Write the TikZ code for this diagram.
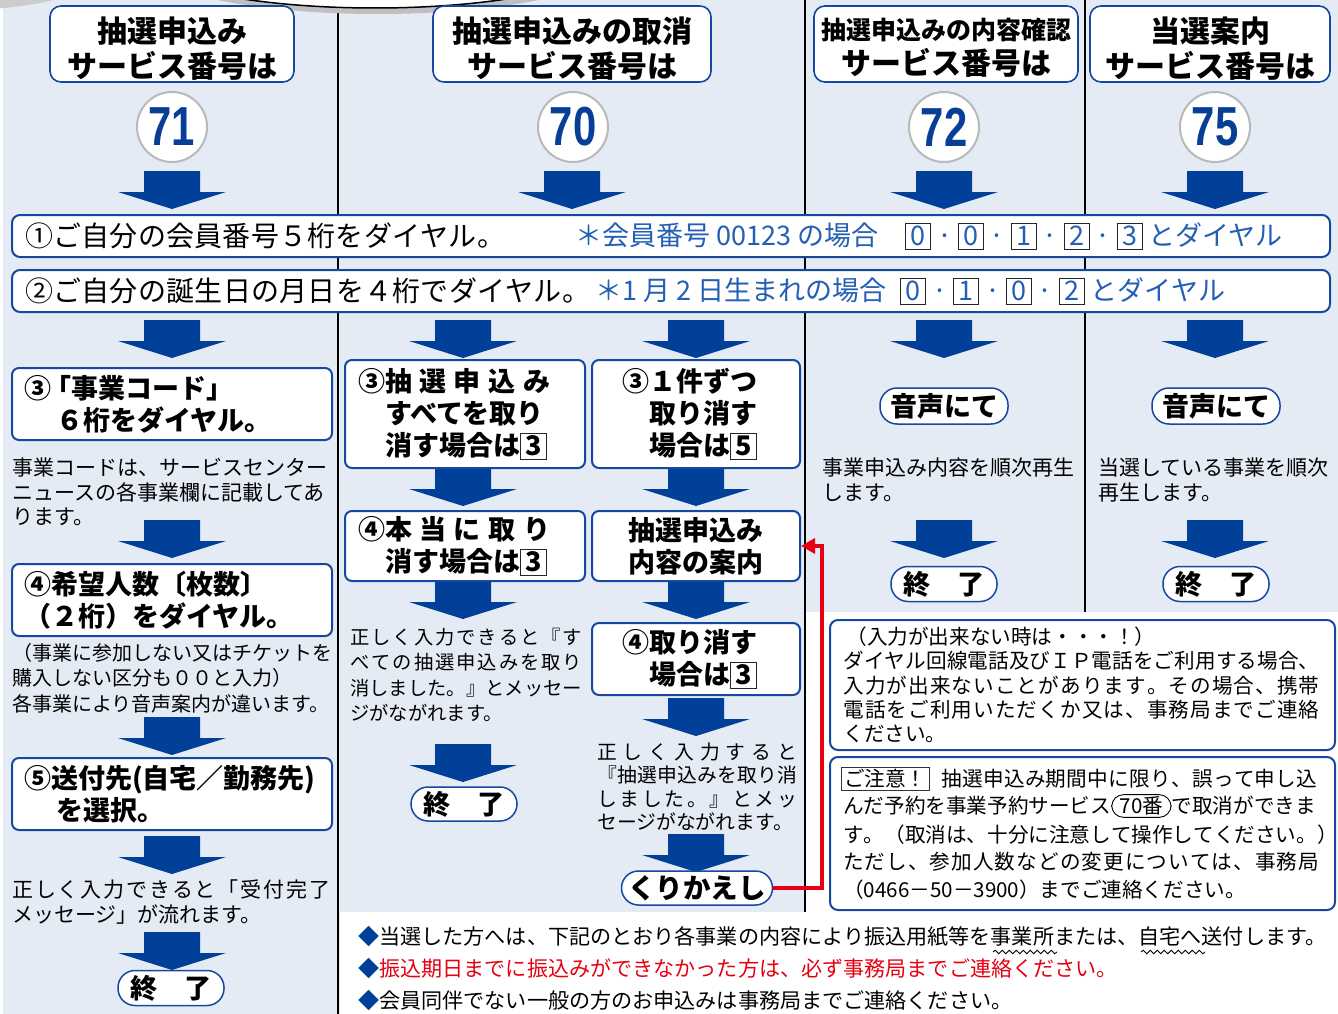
\documentclass[tikz,border=0pt]{standalone}
\usepackage{fontspec}
\setmainfont{Noto Sans CJK JP}
\newfontfamily\numfont{Liberation Sans}
\usetikzlibrary{arrows.meta,decorations.pathmorphing}

\definecolor{bgblue}{RGB}{228,235,245}
\definecolor{boxblue}{RGB}{22,72,160}
\definecolor{arrowblue}{RGB}{0,64,152}
\definecolor{numblue}{RGB}{8,62,150}
\definecolor{hintblue}{RGB}{35,95,180}
\definecolor{alertred}{RGB}{230,0,18}

% Framed key digit, as dialled.
\newcommand\numbox[2][black]{{\color{black!85}\fboxsep=1pt\fboxrule=0.9pt%
  \fbox{\kern3.5pt\rule[-0.1em]{0pt}{0.86em}\textcolor{#1}{#2}\kern3.5pt}}}
\newcommand\dialdot{\kern6pt·\kern6pt}
% Spread the characters of one line over a given width.
\newcommand\spreadtext[2]{\makebox[#1][l]{\spreadfirst#2\relax}}
\def\spreadfirst#1{#1\spreadrest}
\def\spreadrest#1{\ifx\relax#1\else\hfill#1\expandafter\spreadrest\fi}

\begin{document}
\begin{tikzpicture}[
        x=1pt, y=-1pt,
        hdrbox/.style={
            draw=boxblue, line width=1.6pt, fill=white,
            rounded corners=11pt, minimum height=76, inner sep=0pt,
        },
        hdrtext/.style={
            inner sep=0pt, align=center,
            font=\fontsize{30}{35}\selectfont\bfseries,
        },
        numcircle/.style={
            circle, draw=gray!55, line width=2pt, fill=white,
            minimum size=70, inner sep=0pt, text=numblue,
            font=\numfont\fontsize{55}{55}\selectfont\bfseries,
        },
        rowbox/.style={
            draw=boxblue, line width=2pt, fill=white,
            rounded corners=8pt, minimum width=1318, minimum height=42,
        },
        rowtext/.style={
            anchor=west, inner sep=0pt, font=\fontsize{28}{28}\selectfont,
        },
        hinttext/.style={
            anchor=west, inner sep=0pt, text=hintblue,
            font=\fontsize{27}{27}\selectfont,
        },
        stepbox/.style={
            draw=boxblue, line width=2pt, fill=white, rounded corners=7pt,
            inner sep=0pt, align=left,
            font=\fontsize{27}{32}\selectfont\bfseries,
        },
        endoval/.style={
            draw=boxblue, line width=1.5pt, fill=white, rounded corners=17pt,
            minimum height=35, inner sep=0pt,
            font=\fontsize{27}{27}\selectfont\bfseries,
        },
        notetext/.style={
            anchor=west, align=left, inner sep=0pt,
            font=\fontsize{21}{24.5}\selectfont,
        },
        infobox/.style={
            draw=boxblue, line width=2pt, fill=white, rounded corners=8pt,
            minimum width=505,
        },
        infotext/.style={
            anchor=west, align=left, inner sep=0pt,
            font=\fontsize{20.6}{27.5}\selectfont,
        },
        ring/.style={
            draw, line width=0.9pt, rounded corners=12pt, anchor=west,
            inner xsep=8pt, inner ysep=2pt,
            font=\fontsize{20.6}{20.6}\selectfont,
        },
        bottomline/.style={
            anchor=west, inner sep=0pt, font=\fontsize{21.1}{21.1}\selectfont,
        },
        bigarrow/.pic={
            \fill[arrowblue] (-28,0) -- (28,0) -- (28,21) -- (54,21)
                -- (0,38) -- (-54,21) -- (-28,21) -- cycle;
        },
    ]
    \useasboundingbox (0,0) rectangle (1338,1014);

    % Background.
    \fill[white] (0,0) rectangle (1338,1014);
    \fill[bgblue] (3,0) rectangle (1338,1014);
    \fill[white] (806,612) -- (1338,612) -- (1338,1014) -- (340,1014)
        -- (340,912) -- (806,912) -- cycle;

    % Column dividers.
    \draw[line width=2pt] (338,8) -- (338,1014);
    \draw[line width=2pt] (805,0) -- (805,912);
    \draw[line width=2pt] (1085,0) -- (1085,612);

    % Lower edge of the title bubble.
    \fill[gray!40] (-40,-50) ellipse [x radius=170, y radius=60];
    \fill[gray!50] (378,-47) ellipse [x radius=252, y radius=61];
    \filldraw[fill=white, line width=1.5pt] (375,-52) ellipse [x radius=250, y radius=60];

    % Service headers.
    \node[hdrbox, minimum width=244] (hdrentry) at (172,44) {};
    \node[hdrtext] (hdrentrytxt) at (172,49) {抽選申込み\\サービス番号は};
    \node[hdrbox, minimum width=278] (hdrcancel) at (572,44) {};
    \node[hdrtext] (hdrcanceltxt) at (572,49) {抽選申込みの取消\\サービス番号は};
    \node[hdrbox, minimum width=264] (hdrcheck) at (946,44) {};
    \node[hdrtext] (hdrchecktxt) at (946,48)
        {{\fontsize{25}{35}\selectfont 抽選申込みの内容確認}\\サービス番号は};
    \node[hdrbox, minimum width=240] (hdrwin) at (1210,44) {};
    \node[hdrtext] (hdrwintxt) at (1210,49) {当選案内\\サービス番号は};

    % Service numbers.
    \foreach \name/\x/\num in {entry/172/71, cancel/573/70, check/944/72, win/1215/75}
    \node[numcircle] (num\name) at (\x,127) {\scalebox{0.76}[1]{\num}};

    % Block arrows.
    \foreach \x/\y in {172/171, 572/171, 944/171, 1215/171,
            172/320, 463/320, 696/320, 944/320, 1215/320,
            172/520, 172/717, 172/836, 172/932,
            463/468, 463/581, 463/744,
            696/468, 696/581, 696/698, 696/834,
            944/520, 1215/520}
    \pic at (\x,\y) {bigarrow};

    % Dial steps shared by all services.
    \node[rowbox] (dialmember) at (671,236) {};
    \node[rowtext] (dialmembertxt) at (25,236)
        {\spreadtext{480pt}{①ご自分の会員番号５桁をダイヤル。}};
    \node[hinttext] (dialmemberhint) at (575,236) {＊会員番号 00123 の場合\quad
        \numbox[hintblue]{0}\dialdot\numbox[hintblue]{0}\dialdot\numbox[hintblue]{1}%
        \dialdot\numbox[hintblue]{2}\dialdot\numbox[hintblue]{3}\kern6pt とダイヤル};

    \node[rowbox] (dialbirth) at (671,291) {};
    \node[rowtext] (dialbirthtxt) at (25,291)
        {\spreadtext{565pt}{②ご自分の誕生日の月日を４桁でダイヤル。}};
    \node[hinttext] (dialbirthhint) at (595,291) {＊1 月 2 日生まれの場合\hspace{14pt}%
        \numbox[hintblue]{0}\dialdot\numbox[hintblue]{1}\dialdot\numbox[hintblue]{0}%
        \dialdot\numbox[hintblue]{2}\kern6pt とダイヤル};

    % Entry (71).
    \node[stepbox, minimum width=320, minimum height=72, text width=296] (jcode) at (172,404)
        {③\kern-7pt「事業コード」\\\hspace*{32pt}６桁をダイヤル。};
    \node[notetext] (jcodenote) at (12,492)
        {事業コードは、サービスセンター\\ニュースの各事業欄に記載してあ\\ります。};
    \node[stepbox, minimum width=320, minimum height=72, text width=296] (jcount) at (172,600)
        {④希望人数〔枚数〕\\（２桁）をダイヤル。};
    \node[notetext, font=\fontsize{20}{25.5}\selectfont] (jcountnote) at (12,678)
        {（事業に参加しない又はチケットを\\購入しない区分も００と入力）\\各事業により音声案内が違います。};
    \node[stepbox, minimum width=320, minimum height=72, text width=296] (jsend) at (172,794)
        {⑤送付先(自宅／勤務先)\\\hspace*{32pt}を選択。};
    \node[notetext] (jsendnote) at (12,902)
        {\spreadtext{318pt}{正しく入力できると「受付完了}\\メッセージ」が流れます。};
    \node[endoval, minimum width=106] (jend) at (171,988) {終　了};

    % Cancel all (70).
    \node[stepbox, minimum width=240, minimum height=108, text width=214] (call) at (465,414)
        {③\spreadtext{165pt}{抽選申込み}\\\hspace*{27pt}すべてを取り\\\hspace*{27pt}消す場合は\numbox{3}};
    \node[stepbox, minimum width=240, minimum height=70, text width=214] (callsure) at (465,546)
        {④\spreadtext{165pt}{本当に取り}\\\hspace*{27pt}消す場合は\numbox{3}};
    \node[notetext, font=\fontsize{19.3}{25.3}\selectfont] (callnote) at (350,675)
        {\spreadtext{232pt}{正しく入力できると『す}\\\spreadtext{232pt}{べての抽選申込みを取り}\\%
        \spreadtext{232pt}{消しました。』とメッセー}\\ジがながれます。};
    \node[endoval, minimum width=106, minimum height=34] (callend) at (464,804) {終　了};

    % Cancel one by one (70).
    \node[stepbox, minimum width=208, minimum height=108, text width=148] (cone) at (696,414)
        {③１件ずつ\\\hspace*{27pt}取り消す\\\hspace*{27pt}場合は\numbox{5}};
    \node[stepbox, minimum width=208, minimum height=70, align=center] (annai) at (696,546)
        {抽選申込み\\内容の案内};
    \node[stepbox, minimum width=208, minimum height=72, text width=148] (conesure) at (696,659)
        {④取り消す\\\hspace*{27pt}場合は\numbox{3}};
    \node[notetext, font=\fontsize{19.8}{23.5}\selectfont] (conenote) at (597,787)
        {\spreadtext{200pt}{正しく入力すると}\\\spreadtext{200pt}{『抽選申込みを取り消}\\%
        \spreadtext{200pt}{しました。』とメッ}\\セージがながれます。};
    \node[endoval, minimum width=151, minimum height=34,
        font=\fontsize{27.5}{27.5}\selectfont\bfseries] (kuri) at (697,888) {くりかえし};

    % Repeat loop.
    \coordinate (loopcorner) at (822,888);
    \draw[alertred, line width=3.5pt, -{Triangle[length=14pt, width=15pt]}]
        (kuri.east) -- (loopcorner) |- (annai.east);

    % Check (72).
    \node[endoval, minimum width=128, minimum height=36] (checkvoice) at (944,406) {音声にて};
    \node[notetext] (checknote) at (822,480) {事業申込み内容を順次再生\\します。};
    \node[endoval, minimum width=106] (checkend) at (944,584) {終　了};

    % Results (75).
    \node[endoval, minimum width=128, minimum height=36] (winvoice) at (1216,406) {音声にて};
    \node[notetext] (winnote) at (1098,480) {当選している事業を順次\\再生します。};
    \node[endoval, minimum width=106] (winend) at (1216,584) {終　了};

    % Notes on the right.
    \node[infobox, minimum height=130, text width=478, align=left,
        font=\fontsize{20.6}{24.3}\selectfont] (nodial) at (1082.5,685)
        {\hspace*{3pt}（入力が出来ない時は・・・！）\\%
        \spreadtext{476pt}{ダイヤル回線電話及びＩＰ電話をご利用する場合、}\\%
        \spreadtext{476pt}{入力が出来ないことがあります。その場合、携帯}\\%
        \spreadtext{476pt}{電話をご利用いただくか又は、事務局までご連絡}\\%
        ください。};

    \node[infobox, minimum height=153] (caution) at (1082.5,833.5) {};
    \node[infotext] (caution1) at (841,779)
        {{\color{black!80}\fboxsep=2pt\fboxrule=0.9pt\fbox{\textcolor{black}{ご注意！}}}%
        \hspace{12pt}\spreadtext{376pt}{抽選申込み期間中に限り、誤って申し込}};
    \node[infotext] (caution2a) at (843,806) {んだ予約を事業予約サービス};
    \node[ring] (ring70) at (caution2a.east) {70番};
    \node[infotext] (caution2b) at (ring70.east) {で取消ができま};
    \node[infotext] (caution3) at (843,862)
        {\spreadtext{476pt}{す。（取消は、十分に注意して操作してください。）}\\%
        \spreadtext{476pt}{ただし、参加人数などの変更については、事務局}\\%
        （0466－50－3900）までご連絡ください。};

    % Notes at the bottom.
    \node[bottomline] (notice1) at (358,936)
        {\textcolor{arrowblue}{◆}当選した方へは、下記のとおり各事業の内容により振込用紙等を事業所または、自宅へ送付します。};
    \node[bottomline, text=alertred] (notice2) at (358,968)
        {\textcolor{arrowblue}{◆}振込期日までに振込みができなかった方は、必ず事務局までご連絡ください。};
    \node[bottomline] (notice3) at (358,1000)
        {\textcolor{arrowblue}{◆}会員同伴でない一般の方のお申込みは事務局までご連絡ください。};
    \draw[line width=0.9pt, decorate, decoration={snake, amplitude=1.8pt, segment length=7pt}]
        (993,952) -- (1057,952);
    \draw[line width=0.9pt, decorate, decoration={snake, amplitude=1.8pt, segment length=7pt}]
        (1141,952) -- (1205,952);
\end{tikzpicture}
\end{document}
